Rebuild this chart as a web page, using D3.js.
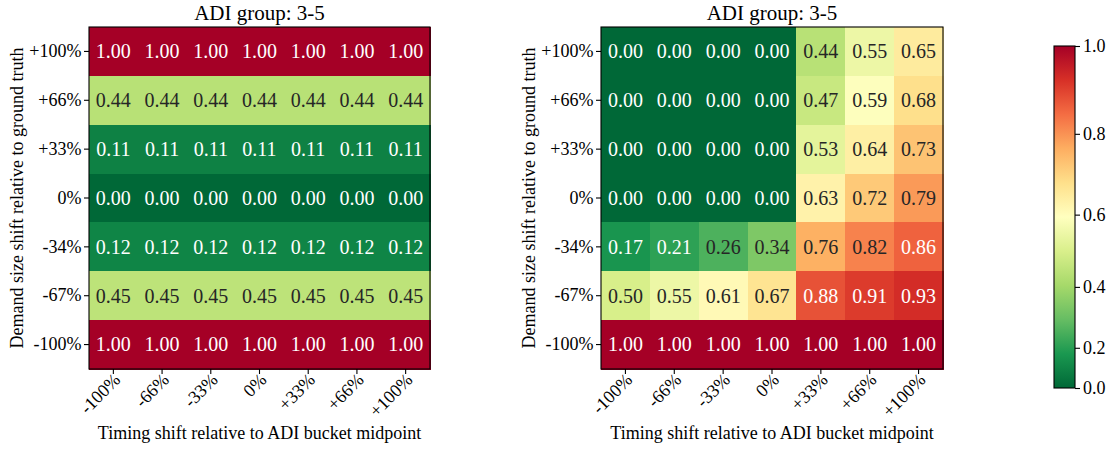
<!DOCTYPE html>
<html>
<head>
<meta charset="utf-8">
<script src="https://cdn.jsdelivr.net/npm/d3@7"></script>
<style>
  html, body { margin: 0; padding: 0; background: #fff; }
  svg { display: block; }
  text { font-family: "Liberation Serif", "DejaVu Serif", serif; }
</style>
</head>
<body>
<svg id="chart" width="1120" height="450"></svg>
<script>
// ---- data ----
const rowLabels = ["+100%", "+66%", "+33%", "0%", "-34%", "-67%", "-100%"];
const colLabels = ["-100%", "-66%", "-33%", "0%", "+33%", "+66%", "+100%"];

const leftValues = [
  [1.00, 1.00, 1.00, 1.00, 1.00, 1.00, 1.00],
  [0.44, 0.44, 0.44, 0.44, 0.44, 0.44, 0.44],
  [0.11, 0.11, 0.11, 0.11, 0.11, 0.11, 0.11],
  [0.00, 0.00, 0.00, 0.00, 0.00, 0.00, 0.00],
  [0.12, 0.12, 0.12, 0.12, 0.12, 0.12, 0.12],
  [0.45, 0.45, 0.45, 0.45, 0.45, 0.45, 0.45],
  [1.00, 1.00, 1.00, 1.00, 1.00, 1.00, 1.00]
];

const rightValues = [
  [0.00, 0.00, 0.00, 0.00, 0.44, 0.55, 0.65],
  [0.00, 0.00, 0.00, 0.00, 0.47, 0.59, 0.68],
  [0.00, 0.00, 0.00, 0.00, 0.53, 0.64, 0.73],
  [0.00, 0.00, 0.00, 0.00, 0.63, 0.72, 0.79],
  [0.17, 0.21, 0.26, 0.34, 0.76, 0.82, 0.86],
  [0.50, 0.55, 0.61, 0.67, 0.88, 0.91, 0.93],
  [1.00, 1.00, 1.00, 1.00, 1.00, 1.00, 1.00]
];

const colorbarTicks = [0.0, 0.2, 0.4, 0.6, 0.8, 1.0];
const titleText = "ADI group: 3-5";
const xLabelText = "Timing shift relative to ADI bucket midpoint";
const yLabelText = "Demand size shift relative to ground truth";

// ---- colour map (matplotlib RdYlGn_r) with power norm ----
const rdylgn = ["#a50026", "#d73027", "#f46d43", "#fdae61", "#fee08b", "#ffffbf",
                "#d9ef8b", "#a6d96a", "#66bd63", "#1a9850", "#006837"];
const cmapColors = rdylgn.slice().reverse();
const cmap = d3.scaleLinear()
  .domain(d3.range(cmapColors.length).map(i => i / (cmapColors.length - 1)))
  .range(cmapColors)
  .interpolate(d3.interpolateRgb)
  .clamp(true);
const norm = d3.scalePow().exponent(1.33).domain([0, 1]).range([0, 1]).clamp(true);
const colorOf = v => cmap(norm(v));

function luminance(c) {
  const rgb = d3.rgb(c);
  const lin = [rgb.r, rgb.g, rgb.b].map(u => {
    u = u / 255;
    return u <= 0.03928 ? u / 12.92 : Math.pow((u + 0.055) / 1.055, 2.4);
  });
  return 0.2126 * lin[0] + 0.7152 * lin[1] + 0.0722 * lin[2];
}

const svg = d3.select("#chart");
svg.append("rect").attr("width", 1120).attr("height", 450).attr("fill", "#fff");

function drawHeatmap(values, x0, x1, y0, y1) {
  const g = svg.append("g");
  const x = d3.scaleBand().domain(colLabels).range([x0, x1]);
  const y = d3.scaleBand().domain(rowLabels).range([y0, y1]);

  const cells = [];
  values.forEach((row, i) => row.forEach((v, j) => cells.push({ r: rowLabels[i], c: colLabels[j], v })));

  g.selectAll("rect.cell").data(cells).enter().append("rect")
    .attr("class", "cell")
    .attr("x", d => x(d.c))
    .attr("y", d => y(d.r))
    .attr("width", x.bandwidth() + 0.5)
    .attr("height", y.bandwidth() + 0.5)
    .attr("fill", d => colorOf(d.v))
    .attr("shape-rendering", "crispEdges");

  g.selectAll("text.annot").data(cells).enter().append("text")
    .attr("class", "annot")
    .attr("x", d => x(d.c) + x.bandwidth() / 2)
    .attr("y", d => y(d.r) + y.bandwidth() / 2)
    .attr("dy", "0.34em")
    .attr("text-anchor", "middle")
    .attr("font-size", 20)
    .attr("fill", d => luminance(colorOf(d.v)) > 0.30 ? "#262626" : "#ffffff")
    .text(d => d.v.toFixed(2));

  // frame
  g.append("rect")
    .attr("x", x0).attr("y", y0)
    .attr("width", x1 - x0).attr("height", y1 - y0)
    .attr("fill", "none").attr("stroke", "#000").attr("stroke-width", 1.1);

  // left axis
  const ya = g.append("g").attr("transform", `translate(${x0},0)`)
    .call(d3.axisLeft(y).tickSize(5).tickPadding(2.5));
  ya.select(".domain").remove();
  ya.selectAll("line").attr("stroke", "#000").attr("stroke-width", 1.1);
  ya.selectAll("text").attr("font-family", "Liberation Serif").attr("font-size", 18).attr("fill", "#000");

  // bottom axis
  const xa = g.append("g").attr("transform", `translate(0,${y1})`)
    .call(d3.axisBottom(x).tickSize(5));
  xa.select(".domain").remove();
  xa.selectAll("line").attr("stroke", "#000").attr("stroke-width", 1.1);
  xa.selectAll("text")
    .attr("font-family", "Liberation Serif").attr("font-size", 18).attr("fill", "#000")
    .attr("x", 0).attr("y", 0).attr("dy", 0)
    .attr("text-anchor", "end")
    .attr("transform", "translate(8,12) rotate(-45)");

  const cx = (x0 + x1) / 2;
  g.append("text").attr("x", cx).attr("y", 20)
    .attr("text-anchor", "middle").attr("font-size", 21).attr("fill", "#000")
    .text(titleText);
  g.append("text").attr("x", cx).attr("y", 439)
    .attr("text-anchor", "middle").attr("font-size", 18).attr("fill", "#000")
    .text(xLabelText);
  g.append("text")
    .attr("transform", `translate(${x0 - 66},${(y0 + y1) / 2}) rotate(-90)`)
    .attr("text-anchor", "middle").attr("font-size", 18).attr("fill", "#000")
    .text(yLabelText);
}

drawHeatmap(leftValues, 89, 430, 27, 369);
drawHeatmap(rightValues, 601, 943, 27, 369);

// ---- colorbar ----
const cbX0 = 1054, cbX1 = 1075, cbY0 = 46, cbY1 = 388;
const defs = svg.append("defs");
const grad = defs.append("linearGradient").attr("id", "cbgrad")
  .attr("x1", 0).attr("y1", 1).attr("x2", 0).attr("y2", 0);
cmapColors.forEach((c, i) => {
  grad.append("stop").attr("offset", i / (cmapColors.length - 1)).attr("stop-color", c);
});
svg.append("rect").attr("x", cbX0).attr("y", cbY0)
  .attr("width", cbX1 - cbX0).attr("height", cbY1 - cbY0)
  .attr("fill", "url(#cbgrad)")
  .attr("stroke", "#000").attr("stroke-width", 1.1);

const cbScale = d3.scalePow().exponent(1.33).domain([0, 1]).range([cbY1, cbY0]);
const cba = svg.append("g").attr("transform", `translate(${cbX1},0)`)
  .call(d3.axisRight(cbScale).tickValues(colorbarTicks).tickFormat(d3.format(".1f")).tickSize(5).tickPadding(3));
cba.select(".domain").remove();
cba.selectAll("line").attr("stroke", "#000").attr("stroke-width", 1.1);
cba.selectAll("text").attr("font-family", "Liberation Serif").attr("font-size", 18).attr("fill", "#000");
</script>
</body>
</html>
